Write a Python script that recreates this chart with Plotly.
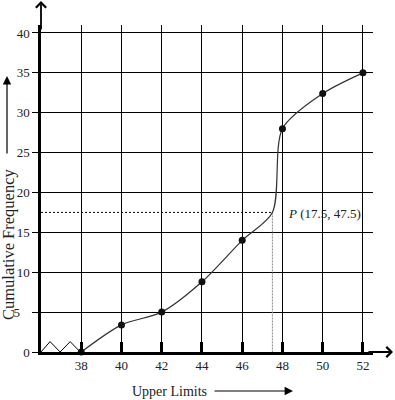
import plotly.graph_objects as go

# ---- data ----
upper_limits = [38, 40, 42, 44, 46, 48, 50, 52]
cum_freq = [0, 3.4, 5, 8.8, 14, 28, 32.4, 35]
p_x = 47.5
p_y = 17.5
x_ticks = [38, 40, 42, 44, 46, 48, 50, 52]
y_ticks = [0, 5, 10, 15, 20, 25, 30, 35, 40]
y_ticktext = ["0", "5\u00a0\u00a0\u00a0", "10", "15", "20", "25", "30", "35", "40"]
break_x = [36, 36.45, 36.95, 37.45, 37.95]
break_y = [0, 1.3, 0, 1.3, 0]

FONT = "Liberation Serif"

# curve passes through P
curve_x = upper_limits[:5] + [p_x] + upper_limits[5:]
curve_y = cum_freq[:5] + [p_y] + cum_freq[5:]

fig = go.Figure()

# axis break zigzag
fig.add_trace(go.Scatter(x=break_x, y=break_y, mode="lines",
                         line=dict(color="black", width=1), hoverinfo="skip"))
# dashed guides to P
fig.add_trace(go.Scatter(x=[36, p_x], y=[p_y, p_y], mode="lines",
                         line=dict(color="black", width=1, dash="2px,2px"), hoverinfo="skip"))
fig.add_trace(go.Scatter(x=[p_x, p_x], y=[p_y, 0], mode="lines",
                         line=dict(color="#888888", width=1, dash="2px,1px"), hoverinfo="skip"))
# ogive curve
fig.add_trace(go.Scatter(x=curve_x, y=curve_y, mode="lines",
                         line=dict(color="#333333", width=1.2, shape="spline", smoothing=0.8),
                         hoverinfo="skip"))
# points
fig.add_trace(go.Scatter(x=upper_limits, y=cum_freq, mode="markers",
                         marker=dict(color="#111111", size=7), cliponaxis=False))

L, R, T, B = 41, 22, 25, 48
W, H = 395, 400
pw = W - L - R
ph = H - T - B


def px2paper(px, py):
    return (px - L) / pw, (H - B - py) / ph


annotations = []
# x-axis arrow head
hx, hy = px2paper(393, 352)
annotations.append(dict(x=hx, y=hy, xref="paper", yref="paper", ax=-26, ay=0,
                        text="", showarrow=True, arrowhead=4, arrowsize=1.1,
                        arrowwidth=1.8, arrowcolor="black"))
# y-axis arrow head
hx, hy = px2paper(41, 1)
annotations.append(dict(x=hx, y=hy, xref="paper", yref="paper", ax=0, ay=30,
                        text="", showarrow=True, arrowhead=4, arrowsize=1.1,
                        arrowwidth=1.8, arrowcolor="black"))
# y title arrow
hx, hy = px2paper(7, 76)
annotations.append(dict(x=hx, y=hy, xref="paper", yref="paper", ax=0, ay=79,
                        text="", showarrow=True, arrowhead=2, arrowsize=1.4,
                        arrowwidth=1.2, arrowcolor="black"))
# x title arrow
hx, hy = px2paper(293, 391)
annotations.append(dict(x=hx, y=hy, xref="paper", yref="paper", ax=-80, ay=0,
                        text="", showarrow=True, arrowhead=2, arrowsize=1.4,
                        arrowwidth=1.2, arrowcolor="black"))
# titles
tx, ty = px2paper(169, 391)
annotations.append(dict(x=tx, y=ty, xref="paper", yref="paper", text="Upper Limits",
                        showarrow=False, xanchor="center", yanchor="middle",
                        font=dict(family=FONT, size=14, color="#222")))
tx, ty = px2paper(8, 244)
annotations.append(dict(x=tx, y=ty, xref="paper", yref="paper", text="Cumulative Frequency",
                        showarrow=False, xanchor="center", yanchor="middle", textangle=-90,
                        font=dict(family=FONT, size=16.5, color="#222")))
# P label
annotations.append(dict(x=p_x + 0.68, y=p_y - 0.15, xref="x", yref="y",
                        text=f"<i>P</i> ({p_y}, {p_x})", showarrow=False,
                        xanchor="left", yanchor="middle",
                        font=dict(family=FONT, size=13, color="#222")))

fig.update_layout(
    width=W, height=H,
    margin=dict(l=L, r=R, t=T, b=B, pad=0),
    paper_bgcolor="white", plot_bgcolor="white",
    showlegend=False,
    annotations=annotations,
    font=dict(family=FONT, size=13, color="#222"),
)
fig.update_xaxes(range=[36, 52.5], tickvals=x_ticks, showgrid=True, gridcolor="black",
                 gridwidth=1.3, zeroline=False, showline=True, linecolor="black",
                 linewidth=2.5, ticks="inside", ticklen=10, tickwidth=2.5, tickcolor="black",
                 tickfont=dict(family=FONT, size=13, color="#222"))
fig.update_yaxes(range=[0, 41], tickvals=y_ticks, ticktext=y_ticktext, showgrid=True,
                 gridcolor="black", gridwidth=1.3, zeroline=False, showline=True,
                 linecolor="black", linewidth=2.5, ticks="outside", ticklen=6, tickwidth=1.2,
                 tickcolor="black", tickfont=dict(family=FONT, size=13, color="#222"))

fig.write_html("out.html", config={"displayModeBar": False},
               post_script="document.body.style.margin='0';document.body.style.padding='0';")
